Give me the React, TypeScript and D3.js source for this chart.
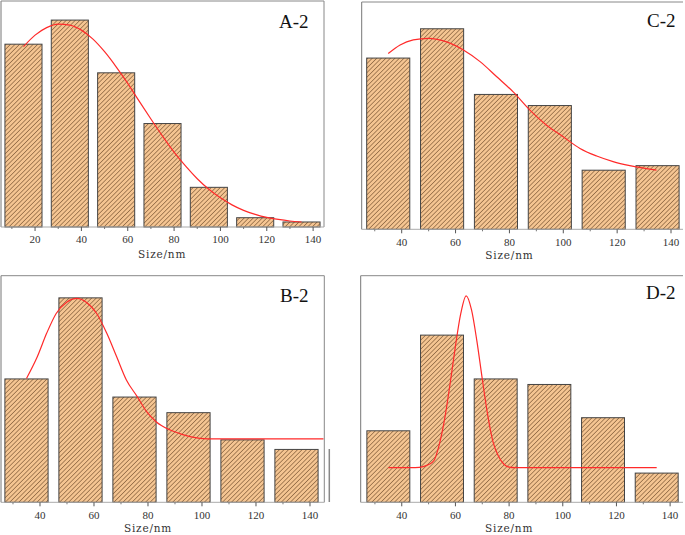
import React from "react";
import * as d3 from "d3";

// ---------- DATA ----------
const centersA = [15, 35, 55, 75, 95, 115, 135];
const valuesA = [36.4, 41.2, 30.7, 20.6, 7.9, 1.85, 1.0];
const fitXA = [15, 20, 25, 30, 35, 40, 45, 50, 55, 60, 65, 70, 75, 80, 85, 90, 95, 100, 105, 110, 115, 120, 125, 130, 135];
const fitYA = [35.9, 38.2, 39.7, 40.4, 40.2, 39.2, 37.4, 34.9, 31.9, 28.6, 25.0, 21.5, 18.1, 14.9, 12.1, 9.6, 7.5, 5.8, 4.4, 3.3, 2.5, 1.9, 1.5, 1.2, 1.0];
const ticksA = [20, 40, 60, 80, 100, 120, 140];

const centersC = [35, 55, 75, 95, 115, 135];
const valuesC = [33.9, 39.7, 26.7, 24.5, 11.7, 12.6];
const fitXC = [35, 39.4, 44.3, 49.9, 56.7, 62.9, 69.1, 75.3, 81.4, 87.6, 93.8, 100, 106.2, 112.4, 118.5, 124.7, 134.6];
const fitYC = [34.8, 36.5, 37.5, 37.8, 37.1, 35.5, 33.2, 30.2, 27.2, 23.6, 20.6, 18.3, 16.0, 14.5, 13.4, 12.6, 11.7];
const ticksC = [40, 60, 80, 100, 120, 140];

const centersB = [35, 55, 75, 95, 115, 135];
const valuesB = [24.5, 40.6, 20.9, 17.8, 12.4, 10.5];
const fitXB = [35, 39, 42.5, 46, 50, 53.6, 57, 61, 64.7, 68.4, 72, 76, 79.5, 83, 88, 92, 96, 102, 145];
const fitYB = [24.6, 28.9, 33.6, 37.5, 39.8, 40.5, 39.8, 37.5, 33.6, 28.9, 24.3, 21.0, 18.0, 16.0, 14.4, 13.6, 13.0, 12.6, 12.6];
const ticksB = [40, 60, 80, 100, 120, 140];

const centersD = [35, 55, 75, 95, 115, 135];
const valuesD = [14.2, 33.2, 24.5, 23.4, 16.8, 5.8];
const fitXD = [35, 45, 48, 50, 52, 54, 56, 58, 60, 62, 64, 66, 68, 70, 72, 74, 76, 78, 80, 82, 135];
const fitYD = [6.9, 6.9, 7.1, 7.5, 8.3, 11.5, 16.6, 23.5, 31.0, 37.5, 41.0, 38.2, 32.0, 24.5, 17.4, 12.0, 9.2, 7.6, 7.0, 6.9, 6.9];
const ticksD = [40, 60, 80, 100, 120, 140];

const BIN_WIDTH = 16;
const Y_MAX = 45;

// ---------- LAYOUT ----------
type Panel = {
  id: string;
  label: string;
  centers: number[];
  values: number[];
  fitX: number[];
  fitY: number[];
  ticks: number[];
  xDomain: [number, number];
  left: number;
  right: number;
  top: number;
  bottom: number;
  tickLabelY: number;
  axisLabelY: number;
  labelX: number;
  labelY: number;
  showRight: boolean;
};

const panels: Panel[] = [
  {
    id: "A", label: "A-2", centers: centersA, values: valuesA, fitX: fitXA, fitY: fitYA, ticks: ticksA,
    xDomain: [5.3, 144.7], left: 1, right: 324, top: 1, bottom: 227,
    tickLabelY: 243, axisLabelY: 258, labelX: 279, labelY: 28, showRight: true,
  },
  {
    id: "C", label: "C-2", centers: centersC, values: valuesC, fitX: fitXC, fitY: fitYC, ticks: ticksC,
    xDomain: [25.15, 144.45], left: 361.7, right: 683, top: 2, bottom: 229.3,
    tickLabelY: 246, axisLabelY: 259, labelX: 647, labelY: 27, showRight: false,
  },
  {
    id: "B", label: "B-2", centers: centersB, values: valuesB, fitX: fitXB, fitY: fitYB, ticks: ticksB,
    xDomain: [25.56, 145.3], left: 1, right: 324.3, top: 275.7, bottom: 502.3,
    tickLabelY: 519, axisLabelY: 532, labelX: 280, labelY: 302, showRight: true,
  },
  {
    id: "D", label: "D-2", centers: centersD, values: valuesD, fitX: fitXD, fitY: fitYD, ticks: ticksD,
    xDomain: [24.7, 144.8], left: 360.7, right: 683, top: 275.7, bottom: 502.3,
    tickLabelY: 519, axisLabelY: 532, labelX: 646, labelY: 299, showRight: false,
  },
];

const PanelView: React.FC<{ p: Panel }> = ({ p }) => {
  const x = d3.scaleLinear().domain(p.xDomain).range([p.left, p.right]);
  const y = d3.scaleLinear().domain([0, Y_MAX]).range([p.bottom, p.top]);
  const line = d3
    .line<number>()
    .x((_, i) => x(p.fitX[i]))
    .y((d) => y(d))
    .curve(d3.curveMonotoneX);
  const minorTicks = d3
    .range(Math.ceil(p.xDomain[0] / 10) * 10, p.xDomain[1], 10)
    .filter((t) => t % 20 !== 0);
  return (
    <g>
      {/* frame */}
      <line x1={p.left} x2={p.left} y1={p.top} y2={p.bottom} stroke="#777" strokeWidth={1} />
      <line x1={p.left} x2={p.right} y1={p.top} y2={p.top} stroke="#888" strokeWidth={1} />
      {p.showRight && (
        <line x1={p.right} x2={p.right} y1={p.top} y2={p.bottom} stroke="#888" strokeWidth={1} />
      )}
      {/* bars */}
      {p.centers.map((c, i) => (
        <rect
          key={i}
          x={x(c - BIN_WIDTH / 2)}
          y={y(p.values[i])}
          width={x(c + BIN_WIDTH / 2) - x(c - BIN_WIDTH / 2)}
          height={y(0) - y(p.values[i])}
          fill="url(#hatch)"
          stroke="#444"
          strokeWidth={1}
        />
      ))}
      {/* x axis */}
      <line x1={p.left} x2={p.right} y1={p.bottom} y2={p.bottom} stroke="#aaa" strokeWidth={1} />
      {p.ticks.map((t) => (
        <g key={t}>
          <line x1={x(t)} x2={x(t)} y1={p.bottom} y2={p.bottom + 4} stroke="#555" strokeWidth={1} />
          <text
            x={x(t)}
            y={p.tickLabelY}
            textAnchor="middle"
            fontFamily="'Liberation Serif', serif"
            fontSize={11}
            fill="#333"
          >
            {t}
          </text>
        </g>
      ))}
      {minorTicks.map((t) => (
        <line key={"m" + t} x1={x(t)} x2={x(t)} y1={p.bottom} y2={p.bottom + 2} stroke="#777" strokeWidth={1} />
      ))}
      <text
        x={(x(70) + x(90)) / 2 + (p.id === "A" ? -12 : 0)}
        y={p.axisLabelY}
        textAnchor="middle"
        fontFamily="'DejaVu Serif', serif"
        fontSize={10.5}
        letterSpacing={0.8}
        fill="#333"
      >
        Size/nm
      </text>
      {/* fit curve */}
      <path d={line(p.fitY) || ""} fill="none" stroke="#ff2a2a" strokeWidth={1.2} />
      {/* panel label */}
      <text x={p.labelX} y={p.labelY} fontFamily="'Liberation Serif', serif" fontSize={19} fill="#111">
        {p.label}
      </text>
    </g>
  );
};

export default function App() {
  return (
    <svg width={685} height={535} style={{ position: "absolute", left: 0, top: 0, background: "#fff" }}>
      <defs>
        <pattern
          id="hatch"
          patternUnits="userSpaceOnUse"
          width={3.2}
          height={3.2}
          patternTransform="rotate(45)"
        >
          <rect width={3.2} height={3.2} fill="#f5c592" />
          <line x1={0} y1={0} x2={0} y2={3.2} stroke="#6a4727" strokeWidth={1.1} />
        </pattern>
      </defs>
      <rect width={685} height={535} fill="#fff" />
      {panels.map((p) => (
        <PanelView key={p.id} p={p} />
      ))}
      {/* stray vertical mark beside panel B */}
      <line x1={329.3} x2={329.3} y1={449} y2={502} stroke="#888" strokeWidth={1.5} />
    </svg>
  );
}
